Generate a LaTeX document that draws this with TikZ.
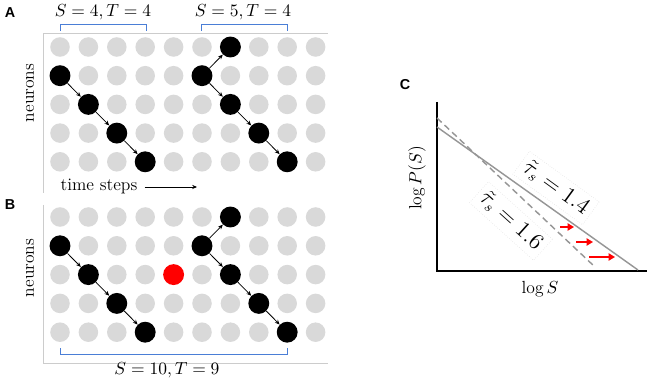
\documentclass[tikz,border=0pt]{standalone}
\usepackage{fontspec}
\usetikzlibrary{arrows.meta, positioning, calc}
\usepackage{amsmath}
\newfontfamily\panelfont{Liberation Sans}
\definecolor{cellgray}{RGB}{217,217,217}
\definecolor{bracketblue}{RGB}{74,126,214}
\definecolor{linegray}{RGB}{150,150,150}

\begin{document}
\begin{tikzpicture}[x=0.022cm, y=-0.022cm, font=\fontsize{11}{13}\selectfont,
    cell/.style={circle, fill=cellgray, minimum size=0.43cm, inner sep=0pt},
    spike/.style={circle, fill=black, minimum size=0.46cm, inner sep=0pt},
    burst/.style={-{Stealth[length=3pt, width=2.6pt]}, line width=0.5pt},
    frame/.style={draw=black!20, line width=0.5pt},
    bracket/.style={draw=bracketblue, line width=0.6pt},
    panel/.style={font=\panelfont\bfseries\small},
    fitline/.style={draw=linegray, line width=0.9pt},
    redshift/.style={draw=red, line width=1.2pt, -{Triangle[length=4pt, width=4.5pt]}},
    taulabel/.style={font=\fontsize{13.5}{15}\selectfont, draw=black!10, densely dotted, inner sep=3pt}]
    \useasboundingbox (0,0) rectangle (649,382);
    % panel letters
    \node[panel] (lblA) at (10,13) {A};
    \node[panel] (lblB) at (10,205) {B};
    \node[panel] (lblC) at (405,85) {C};
    % panel A: grid
    \draw[frame] (43,193) -- (43,33) -- (328,33);
    \foreach \c in {0,...,9}
      \foreach \r in {0,...,4}
        \node[cell] (a-\c-\r) at (60+28.4*\c, 47+28.7*\r) {};
    \foreach \c/\r in {0/1, 1/2, 2/3, 3/4, 5/1, 6/0, 6/2, 7/3, 8/4}
      \node[spike] (sa-\c-\r) at (a-\c-\r) {};
    \foreach \c/\r/\d/\s in {0/1/1/2, 1/2/2/3, 2/3/3/4, 5/1/6/0, 5/1/6/2, 6/2/7/3, 7/3/8/4}
      \draw[burst] (sa-\c-\r) -- (sa-\d-\s);
    % panel A: brackets
    \draw[bracket] (60,31) -- (60,24) -- (146,24) -- (146,31);
    \draw[bracket] (201,31) -- (201,24) -- (287,24) -- (287,31);
    \node (sizeA1) at (103,12) {$S=4,T=4$};
    \node (sizeA2) at (243,12) {$S=5,T=4$};
    \node[rotate=90] (neuA) at (30,93) {neurons};
    \node (tsteps) at (99,186) {time steps};
    \coordinate (tend) at (197,187);
    \draw[-{Stealth[length=3pt, width=2.6pt]}, line width=0.5pt] ([xshift=1pt]tsteps.east |- tend) -- (tend);
    % panel B: grid
    \draw[frame] (43,205) -- (43,363) -- (328,363);
    \foreach \c in {0,...,9}
      \foreach \r in {0,...,4}
        \node[cell] (b-\c-\r) at (60+28.4*\c, 217+28.8*\r) {};
    \foreach \c/\r in {0/1, 1/2, 2/3, 3/4, 5/1, 6/0, 6/2, 7/3, 8/4}
      \node[spike] (sb-\c-\r) at (b-\c-\r) {};
    \node[spike, fill=red] (quiet) at (b-4-2) {};
    \foreach \c/\r/\d/\s in {0/1/1/2, 1/2/2/3, 2/3/3/4, 5/1/6/0, 5/1/6/2, 6/2/7/3, 7/3/8/4}
      \draw[burst] (sb-\c-\r) -- (sb-\d-\s);
    \draw[bracket] (60,348) -- (60,354) -- (287,354) -- (287,348);
    \node (sizeB) at (167,370) {$S=10,T=9$};
    \node[rotate=90] (neuB) at (30,268) {neurons};
    % panel C: log-log sketch
    \draw[line width=1.5pt] (437,102) -- (437,271) -- (647,271);
    \draw[fitline] (437,127) -- (638,270);
    \draw[fitline, dash pattern=on 4pt off 2.5pt] (437,118) -- (595,267);
    \draw[redshift] (560,227) -- (574,227);
    \draw[redshift] (576,242) -- (593,242);
    \draw[redshift] (589,257) -- (615,257);
    \node[taulabel, rotate=-36] (tau14) at (556,188) {$\tilde{\tau}_s = 1.4$};
    \node[taulabel, rotate=-42] (tau16) at (511,221) {$\tilde{\tau}_s = 1.6$};
    \node[rotate=90] (ylab) at (417,178) {$\log P(S)$};
    \node (xlab) at (540,289) {$\log S$};
  \end{tikzpicture}
\end{document}
